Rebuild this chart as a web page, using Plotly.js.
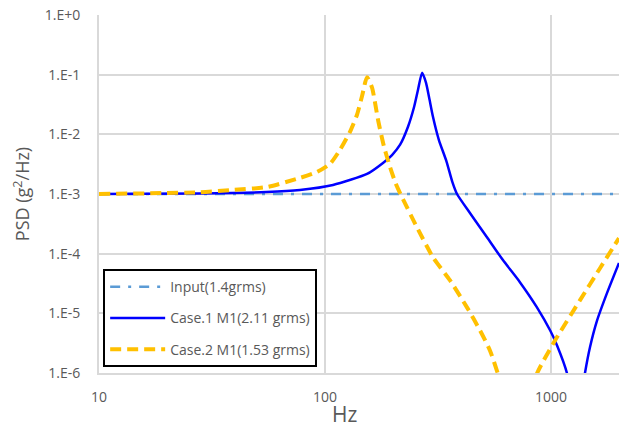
<!DOCTYPE html>
<html>
<head>
<meta charset="utf-8">
<script src="https://cdn.plot.ly/plotly-3.0.1.min.js"></script>
<style>
  html, body { margin: 0; padding: 0; background: #ffffff; }
  #chart { width: 628px; height: 427px; }
</style>
</head>
<body>
<div id="chart"></div>
<script>
// Frequency axis (Hz) and PSD values (g^2/Hz) for each series
const freqInput = [10, 2000];
const psdInput = [1.0e-3, 1.0e-3];

const freqCase1 = [10, 28, 55, 77.5, 108.5, 153.5, 180.6, 198, 215, 233, 248, 258, 269, 280, 288.5, 300.5, 319, 345, 366, 384, 438, 521, 613, 730, 867, 991, 1064, 1178, 1290, 1413, 1488, 1600, 1771, 2000];
const psdCase1 = [1.0e-3, 1.02e-3, 1.08e-3, 1.17e-3, 1.42e-3, 2.17e-3, 3.32e-3, 4.5e-3, 6.7e-3, 1.34e-2, 2.9e-2, 5.6e-2, 0.108, 0.073, 0.0427, 0.0197, 8.1e-3, 3.5e-3, 1.6e-3, 1.0e-3, 4.8e-4, 1.89e-4, 7.8e-5, 3.3e-5, 1.26e-5, 5.2e-6, 2.9e-6, 9.8e-7, 1.0e-7, 9.8e-7, 2.7e-6, 7.6e-6, 2.2e-5, 7.0e-5];

const freqCase2 = [10, 28, 39.2, 55.4, 77.5, 92.2, 105.2, 116.5, 129, 138.6, 146, 153.5, 161.5, 172, 182.5, 194, 206, 219, 255, 300.5, 357, 425, 485, 537, 582, 705, 867, 1042, 1343, 1648, 2000];
const psdCase2 = [1.0e-3, 1.07e-3, 1.17e-3, 1.31e-3, 1.86e-3, 2.34e-3, 3.19e-3, 5.5e-3, 0.011, 0.0213, 0.0444, 0.0908, 0.0605, 0.0169, 6.2e-3, 2.84e-3, 1.47e-3, 8.9e-4, 2.79e-4, 8.7e-5, 3.59e-5, 1.26e-5, 5.2e-6, 2.39e-6, 9.8e-7, 1.0e-7, 9.8e-7, 3.5e-6, 1.65e-5, 5.7e-5, 1.82e-4];

const seriesNames = ['Input(1.4grms)', 'Case.1 M1(2.11 grms)', 'Case.2 M1(1.53 grms)'];

const xTickVals = [10, 100, 1000];
const xTickText = ['10', '100', '1000'];
const yTickVals = [1e-6, 1e-5, 1e-4, 1e-3, 1e-2, 1e-1, 1];
const yTickText = ['1.E-6', '1.E-5', '1.E-4', '1.E-3', '1.E-2', '1.E-1', '1.E+0'];

const textGrey = '#595959';
const gridGrey = '#d9d9d9';
const fontFamily = '"Open Sans", "Noto Sans", sans-serif';

const traces = [
  {
    x: freqInput, y: psdInput, name: seriesNames[0], legendgroup: 'g1',
    type: 'scatter', mode: 'lines',
    line: { color: '#5b9bd5', width: 2.5, dash: '10px,8px,3px,8px' }
  },
  {
    x: freqCase1, y: psdCase1, name: seriesNames[1], legendgroup: 'g2',
    type: 'scatter', mode: 'lines',
    line: { color: '#0000ff', width: 2.5, shape: 'spline', smoothing: 0.6 }
  },
  {
    x: freqCase2, y: psdCase2, name: seriesNames[2], legendgroup: 'g3',
    type: 'scatter', mode: 'lines',
    line: { color: '#ffc000', width: 4, dash: '11px,6px', shape: 'spline', smoothing: 0.6 }
  }
];

const layout = {
  width: 628,
  height: 427,
  margin: { l: 99, r: 9, t: 15, b: 54 },
  paper_bgcolor: '#ffffff',
  plot_bgcolor: '#ffffff',
  font: { family: fontFamily, color: textGrey, size: 14 },
  showlegend: true,
  legend: {
    x: 0.008, y: 0.29, xanchor: 'left', yanchor: 'top',
    bgcolor: '#ffffff', bordercolor: '#000000', borderwidth: 2,
    font: { family: fontFamily, size: 14, color: textGrey },
    traceorder: 'grouped', tracegroupgap: 10, itemwidth: 55
  },
  xaxis: {
    type: 'log',
    range: [1, Math.log10(2000)],
    tickmode: 'array', tickvals: xTickVals, ticktext: xTickText,
    ticks: '', ticklabelstandoff: 10,
    tickfont: { family: fontFamily, size: 14, color: textGrey },
    showgrid: true, gridcolor: gridGrey, gridwidth: 2,
    showline: true, linecolor: gridGrey, linewidth: 2,
    zeroline: false
  },
  yaxis: {
    type: 'log',
    range: [-6, 0],
    tickmode: 'array', tickvals: yTickVals, ticktext: yTickText,
    ticks: '', ticklabelstandoff: 14,
    tickfont: { family: fontFamily, size: 14, color: textGrey },
    showgrid: true, gridcolor: gridGrey, gridwidth: 2,
    showline: true, linecolor: gridGrey, linewidth: 2,
    zeroline: false,
    title: { text: 'PSD (g<sup>2</sup>/Hz)', font: { family: fontFamily, size: 18, color: textGrey }, standoff: 10 }
  },
  annotations: [
    {
      // frequency axis title
      text: 'Hz', xref: 'paper', yref: 'paper', x: 0.473, y: -0.115,
      xanchor: 'center', yanchor: 'middle', showarrow: false,
      font: { family: fontFamily, size: 21, color: textGrey }
    }
  ]
};

Plotly.newPlot('chart', traces, layout, { staticPlot: true, displayModeBar: false });
</script>
</body>
</html>
